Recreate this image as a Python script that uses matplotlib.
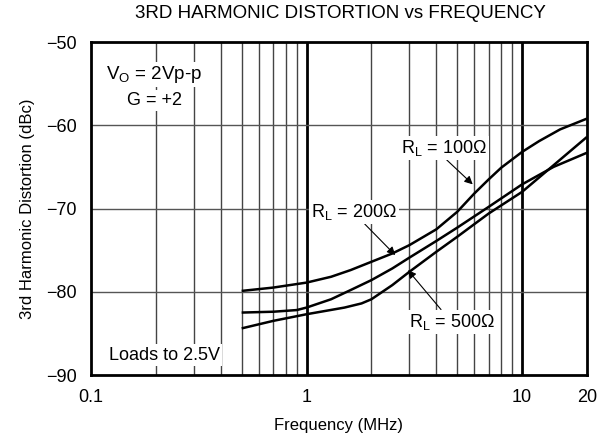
import matplotlib
matplotlib.use("Agg")
import matplotlib.pyplot as plt

plt.rcParams['font.family'] = ['Liberation Sans', 'DejaVu Sans']

# frequency points (MHz) and 3rd harmonic distortion (dBc)
f_top = [0.5, 0.7, 1, 1.3, 1.6, 2, 2.5, 3, 4, 5, 6, 7, 8, 10, 12, 15, 20]
d_top = [-79.9, -79.5, -78.9, -78.2, -77.4, -76.4, -75.4, -74.4, -72.5, -70.4,
         -68.2, -66.5, -65.1, -63.2, -61.9, -60.5, -59.2]

f_mid = [0.5, 0.7, 0.9, 1, 1.3, 1.6, 2, 2.5, 3, 4, 5, 7, 10, 14, 20]
d_mid = [-82.5, -82.4, -82.2, -81.9, -80.9, -79.8, -78.6, -77.2, -75.9, -73.9,
         -72.3, -69.8, -67.1, -65.0, -63.3]

f_bot = [0.5, 0.7, 1, 1.5, 1.8, 2, 2.5, 3, 4, 5, 7, 10, 14, 20]
d_bot = [-84.4, -83.5, -82.7, -81.9, -81.4, -80.9, -79.2, -77.6, -75.2, -73.4,
         -70.6, -68.0, -64.8, -61.4]

x_ticks = [0.1, 1, 10, 20]
x_labels = ["0.1", "1", "10", "20"]
y_ticks = [-50, -60, -70, -80, -90]
y_labels = ["\u221250", "\u221260", "\u221270", "\u221280", "\u221290"]

minor_x = [0.2, 0.3, 0.4, 0.5, 0.6, 0.7, 0.8, 0.9, 2, 3, 4, 5, 6, 7, 8, 9]
major_x = [1, 10]
grid_y = [-60, -70, -80]

fs = 13

fig = plt.figure(figsize=(6.04, 4.41), dpi=100)
ax = fig.add_axes([91 / 604, 1 - 375 / 441, 496 / 604, 333 / 441])

ax.set_xscale('log')
ax.set_xlim(0.1, 20)
ax.set_ylim(-90, -50)

for x in minor_x:
    ax.axvline(x, color='#444444', lw=1.0, zorder=1)
for x in major_x:
    ax.axvline(x, color='black', lw=2.0, zorder=1)
for y in grid_y:
    ax.axhline(y, color='#555555', lw=1.0, zorder=1)

for f, d in [(f_top, d_top), (f_mid, d_mid), (f_bot, d_bot)]:
    ax.plot(f, d, color='black', lw=1.8, zorder=3, solid_capstyle='butt')

ax.set_xticks(x_ticks)
ax.set_xticklabels(x_labels)
ax.xaxis.set_minor_locator(matplotlib.ticker.NullLocator())
ax.set_yticks(y_ticks)
ax.set_yticklabels(y_labels)
ax.tick_params(length=0, labelsize=fs, pad=10)

for s in ax.spines.values():
    s.set_linewidth(2.0)

ax.set_xlabel("Frequency (MHz)", fontsize=12, labelpad=9)
ax.set_ylabel("3rd Harmonic Distortion (dBc)", fontsize=12, labelpad=8)
fig.text(340 / 604, 1 - 14 / 441, "3RD HARMONIC DISTORTION vs FREQUENCY",
         ha='center', va='center', fontsize=13.5)

box = dict(facecolor='white', edgecolor='none', pad=1.5)
ax.text(0.197, -53.9, r"V$_\mathregular{O}$ = 2Vp-p", ha='center', va='center',
        fontsize=13.5, bbox=box, zorder=4)
ax.text(0.197, -57.0, "G = +2", ha='center', va='center', fontsize=fs,
        bbox=box, zorder=4)
ax.text(0.22, -87.6, "Loads to 2.5V", ha='center', va='center', fontsize=fs,
        bbox=box, zorder=4)

arrow = dict(arrowstyle='-|>', color='black', lw=0.8, mutation_scale=12,
             shrinkA=0, shrinkB=0)
ax.annotate(r"R$_\mathregular{L}$ = 100Ω", xy=(5.9, -67.1), xytext=(4.36, -62.7),
            ha='center', va='center', fontsize=fs, bbox=box, zorder=4,
            arrowprops=dict(arrow, relpos=(0.5, 0.0)))
ax.annotate(r"R$_\mathregular{L}$ = 200Ω", xy=(2.58, -75.6), xytext=(1.66, -70.4),
            ha='center', va='center', fontsize=fs, bbox=box, zorder=4,
            arrowprops=dict(arrow, relpos=(0.6, 0.0)))
ax.annotate(r"R$_\mathregular{L}$ = 500Ω", xy=(2.95, -77.4), xytext=(4.7, -83.6),
            ha='center', va='center', fontsize=fs, bbox=box, zorder=4,
            arrowprops=dict(arrow, relpos=(0.4, 1.0)))

fig.savefig("out.png", dpi=100)
